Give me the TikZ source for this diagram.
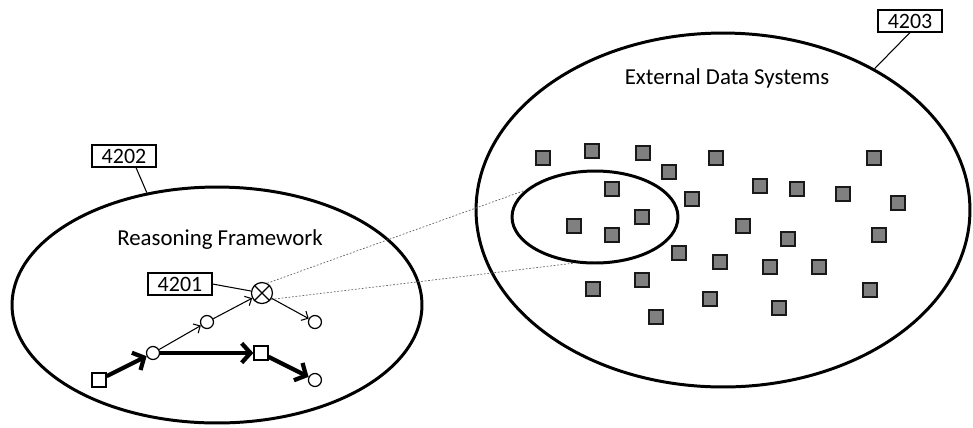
\documentclass[tikz,border=0pt]{standalone}
\usepackage{fontspec}
\setmainfont{Carlito}
\usetikzlibrary{shapes.geometric,arrows.meta,positioning}
\tikzset{
	oval/.style={
		ellipse,
		draw,
		line width=1.7pt,
		inner sep=0pt
	}
}

\begin{document}
\begin{tikzpicture}[x=0.02cm,y=-0.02cm]
		\tikzstyle{main}=[circle, minimum size = 2.6mm, inner sep=0pt, draw =black, fill=white, line width=0.7pt]
		\tikzstyle{sq}=[rectangle, minimum size = 2.8mm, inner sep=0pt, draw =black, fill=white, line width=0.7pt]
		\tikzstyle{data}=[rectangle, minimum size = 2.8mm, inner sep=0pt, draw =black!90, fill=black!50, line width=1.3pt]
		\tikzstyle{tag}=[rectangle, draw=black, line width=0.6pt, minimum width=1.28cm, minimum height=0.44cm, inner sep=0pt, font=\fontsize{12.5}{14}\selectfont]
		\tikzstyle{connect}=[line width=0.6pt, -{Straight Barb[length=3pt,width=6pt]}]
		\tikzstyle{heavy}=[line width=2.4pt, -{Straight Barb[length=5pt,width=11pt]}]
		\tikzstyle{ray}=[line width=0.4pt, black!60, dash pattern=on 1pt off 1pt]
		\useasboundingbox (0,0) rectangle (973,427);

		% the two systems
		\node[oval, minimum width=8.2cm, minimum height=4.72cm] (rf) at (217,305) {};
		\node[oval, minimum width=9.88cm, minimum height=7.08cm] (eds) at (723,210) {};
		\node[oval, minimum width=3.32cm, minimum height=1.84cm] (sub) at (595,217) {};
		\node[font=\fontsize{13}{15}\selectfont] (rft) at (220,240) {Reasoning Framework};
		\node[font=\fontsize{13}{15}\selectfont] (edst) at (727,78) {External Data Systems};

		% reasoning graph
		\node[sq] (s1) at (99,380) {};
		\node[main] (c3) [on grid, above right=0.54cm and 1.08cm of s1] {};
		\node[sq] (s2) [on grid, right=2.16cm of c3] {};
		\node[main] (c4) [on grid, below right=0.54cm and 1.08cm of s2] {};
		\node[main] (c1) [on grid, above right=0.62cm and 1.08cm of c3] {};
		\node[main, minimum size=4.2mm] (x) [on grid, above right=0.58cm and 1.1cm of c1] {};
		\node[main] (c2) [on grid, below right=0.58cm and 1.06cm of x] {};
		\draw[line width=0.7pt] (x.45) -- (x.225) (x.135) -- (x.315);

		\path
		(s1) edge [heavy] (c3)
		(c3) edge [heavy] (s2)
		(s2) edge [heavy] (c4)
		(c3) edge [connect] (c1)
		(c1) edge [connect] (x)
		(x) edge [connect] (c2)
		;

		% link into the data systems
		\draw[ray] (x.62) -- (sub.159);
		\draw[ray] (x.-35) -- (sub.246);

		% data systems
		\foreach \px/\py [count=\i] in {543/158, 592/151, 643/153, 716/158, 874/158, 669/172,
			612/189, 692/199, 760/186, 797/189, 843/194, 898/203, 574/226, 642/217,
			612/235, 743/226, 788/239, 879/235, 679/253, 720/262, 770/267, 819/267,
			642/280, 593/289, 870/290, 710/299, 779/308, 656/317}
			\node[data] (d\i) at (\px,\py) {};

		% reference labels
		\node[tag] (n4202) at (124,156) {4202};
		\node[tag] (n4203) at (910,21) {4203};
		\node[tag] (n4201) at (180,284) {4201};
		\draw[line width=0.6pt] (n4202.south) ++(12,0) coordinate (l2) (l2) -- (rf.122);
		\draw[line width=0.6pt] (n4203.south) -- (eds.43);
		\draw[line width=0.6pt] (n4201.east) -- (x);

\end{tikzpicture}
\end{document}
